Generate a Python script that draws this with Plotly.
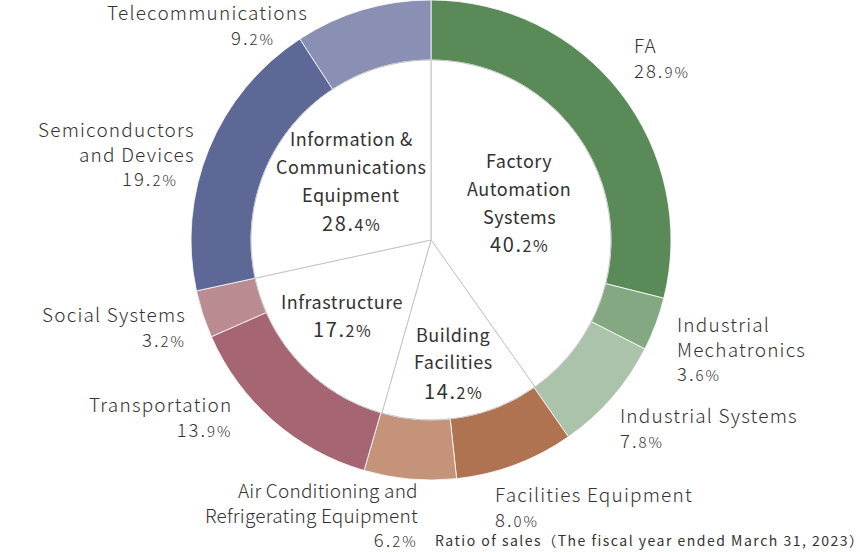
import plotly.graph_objects as go

# ---- data ----
segments = ["FA", "Industrial Mechatronics", "Industrial Systems", "Facilities Equipment",
            "Air Conditioning and Refrigerating Equipment", "Transportation", "Social Systems",
            "Semiconductors and Devices", "Telecommunications"]
segment_values = [28.9, 3.6, 7.8, 8.0, 6.2, 13.9, 3.2, 19.2, 9.2]
segment_lines = [["FA"], ["Industrial", "Mechatronics"], ["Industrial Systems"], ["Facilities Equipment"],
                 ["Air Conditioning and", "Refrigerating Equipment"], ["Transportation"], ["Social Systems"],
                 ["Semiconductors", "and Devices"], ["Telecommunications"]]
groups = ["Factory Automation Systems", "Building Facilities", "Infrastructure",
          "Information & Communications Equipment"]
group_values = [40.2, 14.2, 17.2, 28.4]
group_lines = [["Factory", "Automation", "Systems"], ["Building", "Facilities"], ["Infrastructure"],
               ["Information &", "Communications", "Equipment"]]
footnote = "Ratio of sales（The fiscal year ended March 31, 2023）"

# ---- style ----
W, H = 860, 552
CX, CY, R_OUT, R_IN = 431, 240, 240, 180
seg_colors = ["#5b8a59", "#83a882", "#aac3aa", "#b07352", "#c4937a", "#a66572", "#ba8c92", "#5e6897", "#8a8fb4"]
FONT = "Noto Sans CJK JP"
TXT = "#333333"

def dom(r):
    return dict(x=[(CX - r) / W, (CX + r) / W], y=[(H - CY - r) / H, (H - CY + r) / H])

fig = go.Figure()
fig.add_trace(go.Pie(labels=segments, values=segment_values, sort=False, direction="clockwise",
                     rotation=0, hole=R_IN / R_OUT, domain=dom(R_OUT), textinfo="none",
                     marker=dict(colors=seg_colors, line=dict(color="white", width=0.8)),
                     hoverinfo="label+value", showlegend=False))
fig.add_trace(go.Pie(labels=groups, values=group_values, sort=False, direction="clockwise",
                     rotation=0, domain=dom(R_IN), textinfo="none",
                     marker=dict(colors=["white"] * 4, line=dict(color="#c4c4c4", width=1)),
                     hoverinfo="label+value", showlegend=False))

def spaced(t, ls):
    return f"<span style='letter-spacing:{ls}px'>{t}</span>"

def pct(v, big, small, ls):
    a, b = f"{v:.1f}".split(".")
    return spaced(f"<span style='font-size:{big}px'>{a}.</span><span style='font-size:{small}px'>{b}%</span>", ls)

# outer label layout: (x, anchor, first line y, pct x (None = same block), pct y, letter spacing)
outer_pos = [
    (633, "left", 45, None, 70, 1.2),
    (676, "left", 324, None, 372, 1.2),
    (619, "left", 414, None, 439, 1.2),
    (494, "left", 494, None, 518, 1.2),
    (419, "right", 492, None, 536, 0.2),
    (234, "right", 404, None, 428, 1.2),
    (187, "right", 314, None, 338, 1.2),
    (196, "right", 129, 179, 178, 1.2),
    (309, "right", 12, 276, 37, 1.2),
]
inner_pos = [
    (519, [160, 188, 216], 244),
    (453, [334, 361], 390),
    (342, [301], 328),
    (351, [138, 166, 194], 222),
]
OUT_SIZE = 19

ann = []
def add(text, x, y, anchor, size, weight=400, align=None):
    ann.append(dict(text=text, x=x / W, y=1 - y / H, xref="paper", yref="paper", xanchor=anchor,
                    yanchor="middle", showarrow=False, borderpad=0, align=align or anchor,
                    font=dict(family=FONT, size=size, color=TXT, weight=weight)))

for lines, v, (x, anc, y0, px, py, ls) in zip(segment_lines, segment_values, outer_pos):
    rows = [spaced(t, ls) for t in lines]
    p = pct(v, 18.5, 15, 2.0)
    if px is None:
        add("<br>".join(rows + [p]), x, (y0 + py) / 2, anc, OUT_SIZE, 300)
    else:
        add("<br>".join(rows), x, y0 + (len(rows) - 1) * 12, anc, OUT_SIZE, 300)
        add(p, px, py, anc, 18.5, 300)

for lines, v, (x, ys, py) in zip(group_lines, group_values, inner_pos):
    for t, y in zip(lines, ys):
        add(spaced(t, 0.5), x, y, "center", 18, 400)
    add(pct(v, 20, 16, 1.6), x, py, "center", 20, 400)

add(spaced(footnote, 1.5), 434, 540, "left", 14, 400)

fig.update_layout(width=W, height=H, margin=dict(l=0, r=0, t=0, b=0),
                  paper_bgcolor="white", plot_bgcolor="white", annotations=ann)
fig.write_html("out.html")
